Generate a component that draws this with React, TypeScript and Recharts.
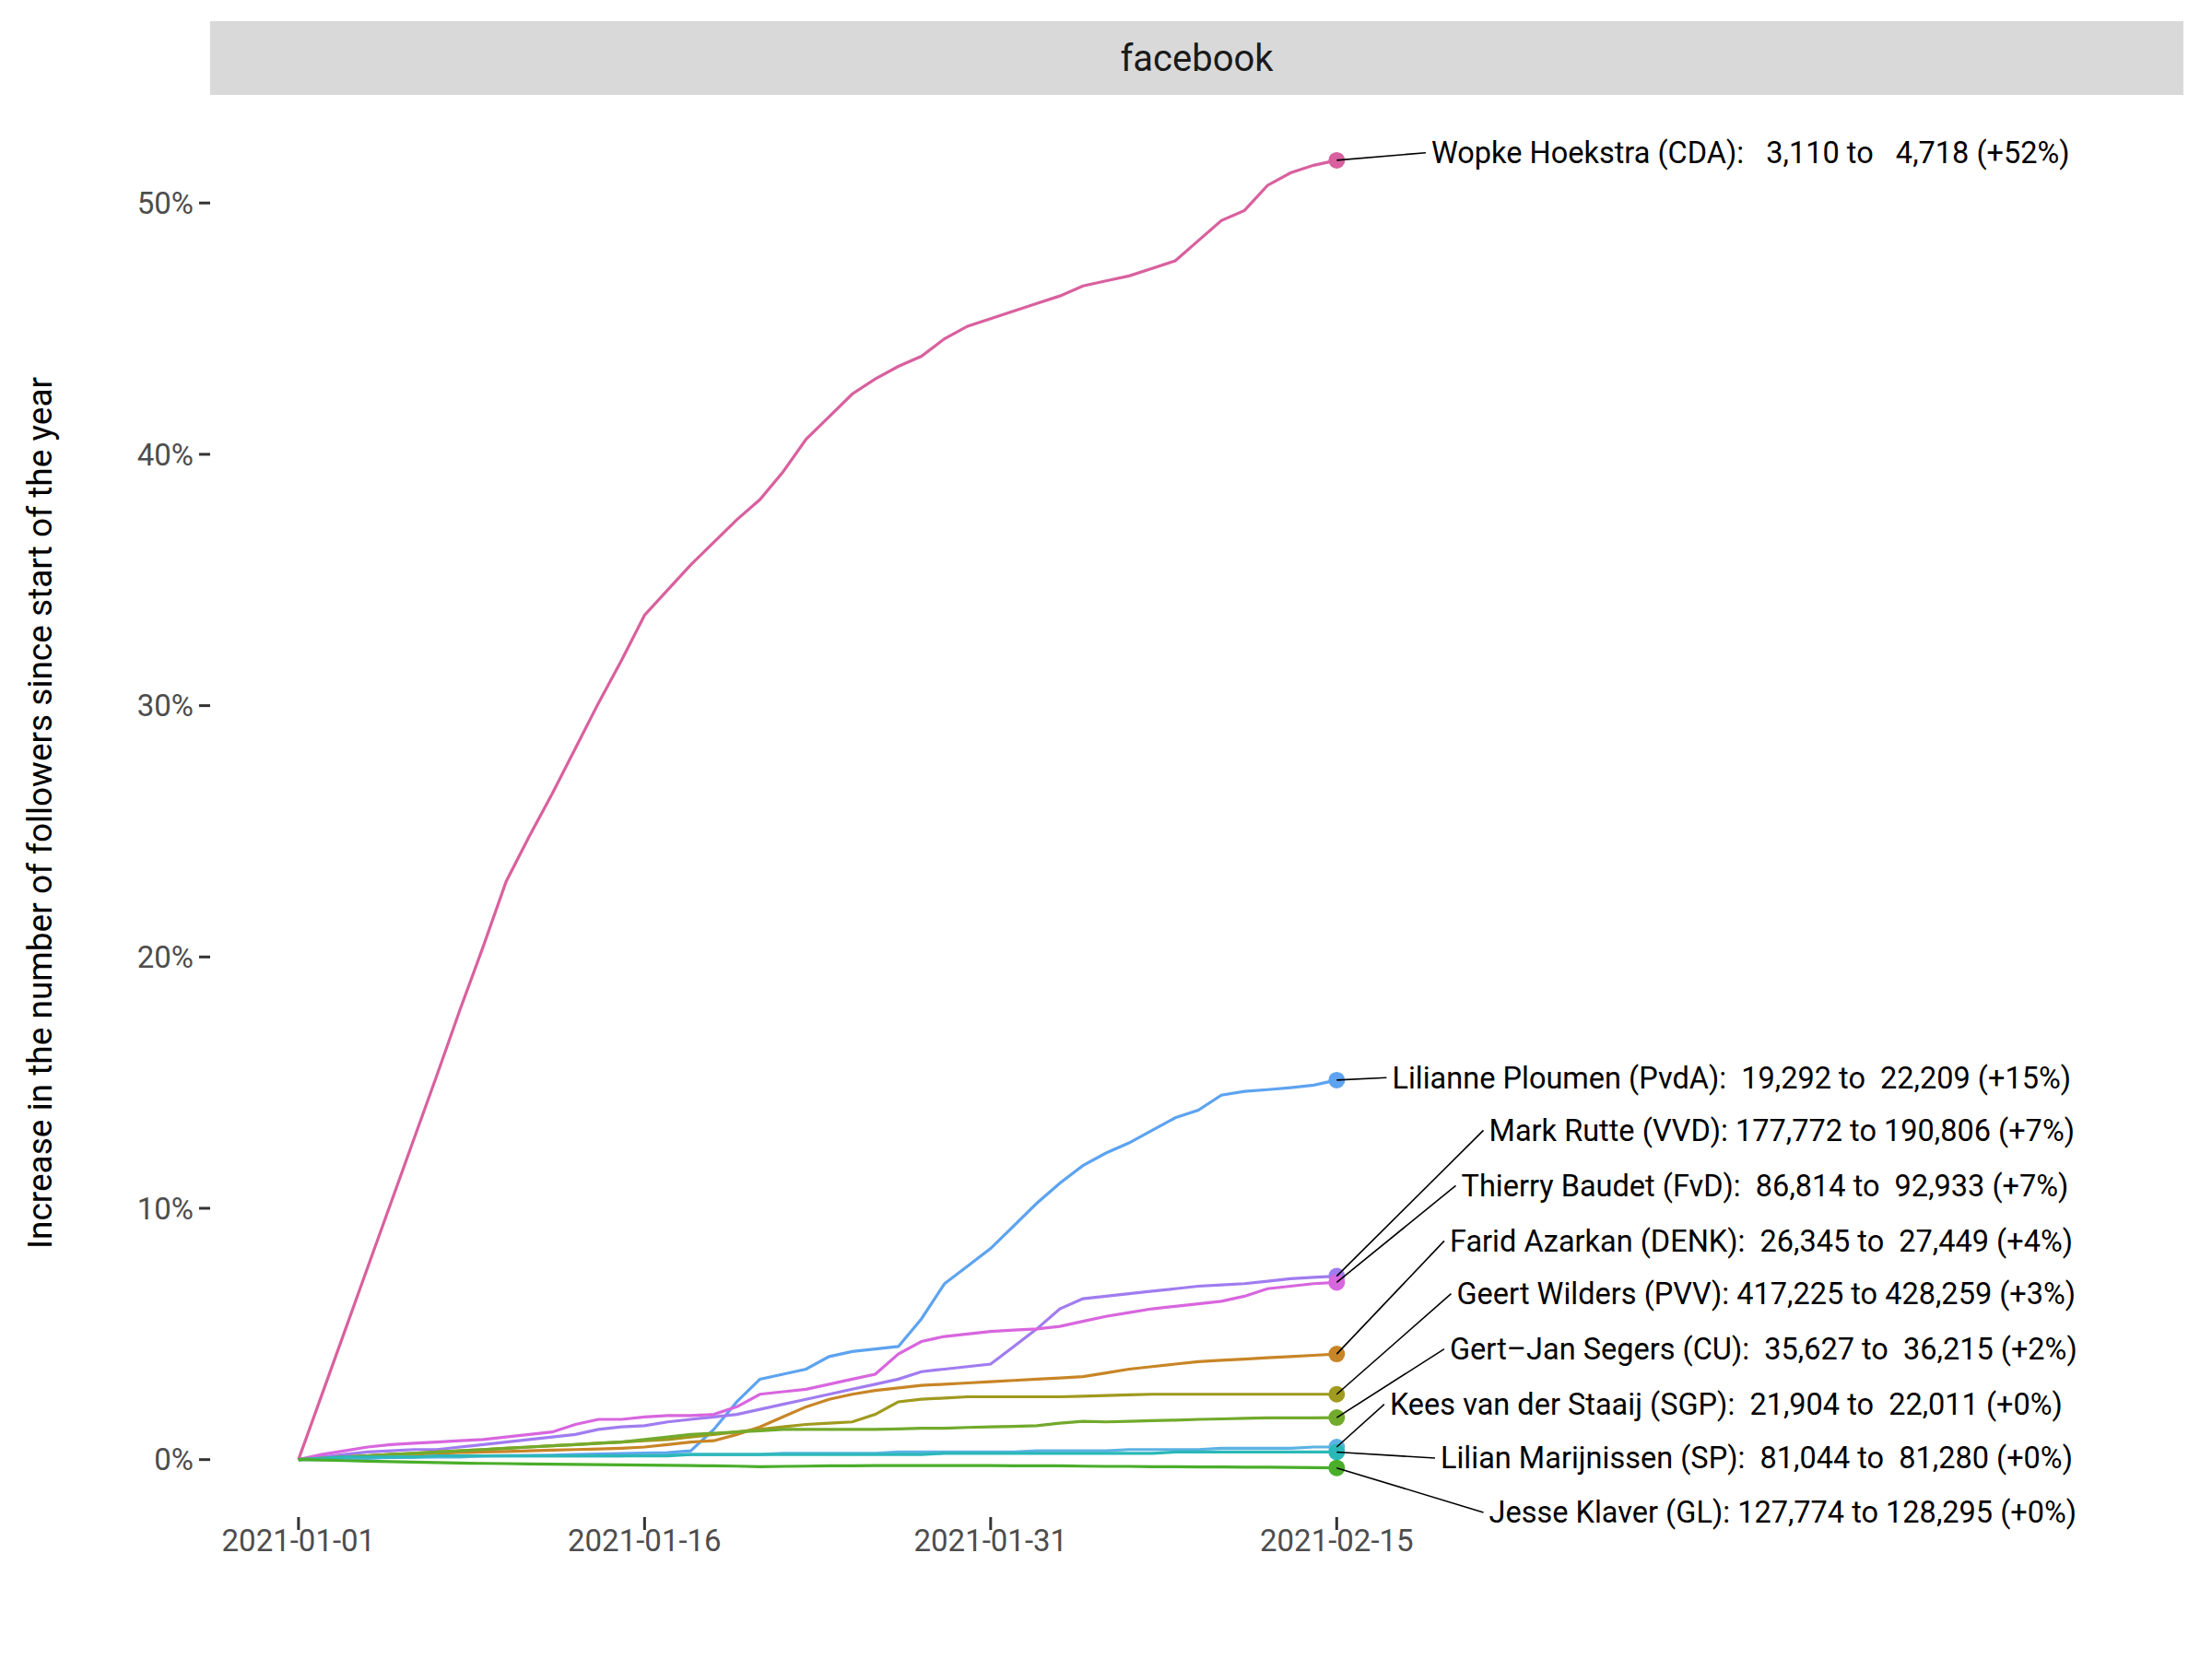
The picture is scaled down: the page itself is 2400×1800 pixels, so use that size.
import React from 'react';
import { LineChart, Line, XAxis, YAxis } from 'recharts';

// day offsets since 2021-01-01
const days = Array.from({ length: 46 }, (_, i) => i);
const tickDays = [0, 15, 30, 45];
const tickLabels = ['2021-01-01', '2021-01-16', '2021-01-31', '2021-02-15'];
const yTicks = [0, 10, 20, 30, 40, 50];

const hoekstra = [0, 2.55, 5.1, 7.65, 10.2, 12.75, 15.3, 17.9, 20.4, 23, 24.8, 26.5, 28.3, 30.1, 31.8, 33.6, 34.6, 35.6, 36.5, 37.4, 38.2, 39.3, 40.6, 41.5, 42.4, 43.0, 43.5, 43.9, 44.6, 45.1, 45.4, 45.7, 46.0, 46.3, 46.7, 46.9, 47.1, 47.4, 47.7, 48.5, 49.3, 49.7, 50.7, 51.2, 51.5, 51.7];
const ploumen = [0, 0.02, 0.04, 0.06, 0.08, 0.1, 0.12, 0.14, 0.15, 0.16, 0.17, 0.18, 0.2, 0.22, 0.24, 0.26, 0.28, 0.35, 1.2, 2.3, 3.2, 3.4, 3.6, 4.1, 4.3, 4.4, 4.5, 5.6, 7.0, 7.7, 8.4, 9.3, 10.2, 11.0, 11.7, 12.2, 12.6, 13.1, 13.6, 13.9, 14.5, 14.65, 14.72, 14.8, 14.9, 15.1];
const rutte = [0, 0.1, 0.2, 0.3, 0.35, 0.4, 0.4, 0.5, 0.6, 0.7, 0.8, 0.9, 1.0, 1.2, 1.3, 1.35, 1.5, 1.6, 1.7, 1.8, 2.0, 2.2, 2.4, 2.6, 2.8, 3.0, 3.2, 3.5, 3.6, 3.7, 3.8, 4.5, 5.2, 6.0, 6.4, 6.5, 6.6, 6.7, 6.8, 6.9, 6.95, 7.0, 7.1, 7.2, 7.25, 7.3];
const baudet = [0, 0.2, 0.35, 0.5, 0.6, 0.65, 0.7, 0.75, 0.8, 0.9, 1.0, 1.1, 1.4, 1.6, 1.6, 1.7, 1.75, 1.75, 1.8, 2.1, 2.6, 2.7, 2.8, 3.0, 3.2, 3.4, 4.2, 4.7, 4.9, 5.0, 5.1, 5.15, 5.2, 5.3, 5.5, 5.7, 5.85, 6.0, 6.1, 6.2, 6.3, 6.5, 6.8, 6.9, 7.0, 7.05];
const azarkan = [0, 0.05, 0.1, 0.15, 0.2, 0.22, 0.25, 0.28, 0.3, 0.32, 0.35, 0.38, 0.4, 0.42, 0.45, 0.5, 0.6, 0.7, 0.75, 1.0, 1.3, 1.7, 2.1, 2.4, 2.6, 2.75, 2.85, 2.95, 3.0, 3.05, 3.1, 3.15, 3.2, 3.25, 3.3, 3.45, 3.6, 3.7, 3.8, 3.9, 3.95, 4.0, 4.05, 4.1, 4.15, 4.2];
const wilders = [0, 0.05, 0.1, 0.15, 0.2, 0.25, 0.3, 0.35, 0.4, 0.45, 0.5, 0.55, 0.6, 0.65, 0.7, 0.75, 0.8, 0.9, 1.0, 1.1, 1.2, 1.3, 1.4, 1.45, 1.5, 1.8, 2.3, 2.4, 2.45, 2.5, 2.5, 2.5, 2.5, 2.5, 2.52, 2.55, 2.58, 2.6, 2.6, 2.6, 2.6, 2.6, 2.6, 2.6, 2.6, 2.6];
const segers = [0, 0.05, 0.1, 0.15, 0.2, 0.25, 0.3, 0.35, 0.4, 0.45, 0.5, 0.55, 0.6, 0.65, 0.7, 0.8, 0.9, 1.0, 1.05, 1.1, 1.15, 1.2, 1.2, 1.2, 1.2, 1.2, 1.22, 1.25, 1.25, 1.28, 1.3, 1.32, 1.35, 1.45, 1.52, 1.5, 1.52, 1.55, 1.57, 1.6, 1.62, 1.64, 1.66, 1.66, 1.66, 1.67];
const staaij = [0, 0, 0.05, 0.05, 0.1, 0.1, 0.1, 0.1, 0.15, 0.15, 0.15, 0.15, 0.15, 0.15, 0.15, 0.2, 0.2, 0.2, 0.2, 0.2, 0.2, 0.25, 0.25, 0.25, 0.25, 0.25, 0.3, 0.3, 0.3, 0.3, 0.3, 0.3, 0.35, 0.35, 0.35, 0.35, 0.4, 0.4, 0.4, 0.4, 0.45, 0.45, 0.45, 0.45, 0.5, 0.5];
const marijnissen = [0, 0.05, 0.1, 0.1, 0.1, 0.1, 0.15, 0.15, 0.15, 0.15, 0.15, 0.15, 0.15, 0.15, 0.15, 0.15, 0.15, 0.2, 0.2, 0.2, 0.2, 0.2, 0.2, 0.2, 0.2, 0.2, 0.2, 0.2, 0.25, 0.25, 0.25, 0.25, 0.25, 0.25, 0.25, 0.25, 0.25, 0.25, 0.3, 0.3, 0.3, 0.3, 0.3, 0.3, 0.3, 0.3];
const klaver = [0, -0.02, -0.04, -0.06, -0.08, -0.1, -0.12, -0.14, -0.15, -0.16, -0.17, -0.18, -0.19, -0.2, -0.21, -0.22, -0.23, -0.24, -0.25, -0.26, -0.28, -0.27, -0.26, -0.25, -0.25, -0.24, -0.24, -0.24, -0.24, -0.24, -0.24, -0.25, -0.25, -0.25, -0.26, -0.27, -0.27, -0.28, -0.28, -0.29, -0.29, -0.3, -0.3, -0.31, -0.32, -0.33];

const seriesKeys = ['hoekstra', 'ploumen', 'rutte', 'baudet', 'azarkan', 'wilders', 'segers', 'staaij', 'marijnissen', 'klaver'];
const seriesValues = [hoekstra, ploumen, rutte, baudet, azarkan, wilders, segers, staaij, marijnissen, klaver];
const seriesColors = ['#D9609E', '#5DA3F0', '#A07CF0', '#D866DE', '#C88526', '#A09A1E', '#72AA2C', '#5CB2E4', '#2BB8B8', '#49AE2A'];
const labelTexts = [
  'Wopke Hoekstra (CDA):   3,110 to   4,718 (+52%)',
  'Lilianne Ploumen (PvdA):  19,292 to  22,209 (+15%)',
  'Mark Rutte (VVD): 177,772 to 190,806 (+7%)',
  'Thierry Baudet (FvD):  86,814 to  92,933 (+7%)',
  'Farid Azarkan (DENK):  26,345 to  27,449 (+4%)',
  'Geert Wilders (PVV): 417,225 to 428,259 (+3%)',
  'Gert\u2013Jan Segers (CU):  35,627 to  36,215 (+2%)',
  'Kees van der Staaij (SGP):  21,904 to  22,011 (+0%)',
  'Lilian Marijnissen (SP):  81,044 to  81,280 (+0%)',
  'Jesse Klaver (GL): 127,774 to 128,295 (+0%)',
];
// label anchor in data units (day, percent)
const labelDays = [49.1, 47.4, 51.6, 50.4, 49.9, 50.2, 49.9, 47.3, 49.5, 51.6];
const labelPcts = [52.0, 15.2, 13.1, 10.9, 8.7, 6.6, 4.4, 2.2, 0.06, -2.1];

const chartData = days.map((d, i) => {
  const row: any = { day: d };
  seriesKeys.forEach((k, s) => (row[k] = seriesValues[s][i]));
  return row;
});

const W = 2400;
const H = 1800;
const PLOT_TOP = 103;
const PLOT_LEFT = 228;
const PLOT_RIGHT = 2369;
const PLOT_BOTTOM = 1660;
const X_DOMAIN = [-3.83, 81.7];
const Y_DOMAIN = [-2.8, 54.3];
const pxPerDay = (PLOT_RIGHT - PLOT_LEFT) / (X_DOMAIN[1] - X_DOMAIN[0]);
const pxPerPct = (PLOT_BOTTOM - PLOT_TOP) / (Y_DOMAIN[1] - Y_DOMAIN[0]);
const LAST = days.length - 1;
const FONT = 'Roboto, "Liberation Sans", sans-serif';

const makeLabel = (s: number) => (props: any) => {
  if (props.index !== LAST) return null;
  const { x, y } = props;
  const lx = x + (labelDays[s] - days[LAST]) * pxPerDay;
  const ly = y - (labelPcts[s] - seriesValues[s][LAST]) * pxPerPct;
  return (
    <g key={`lab-${s}`}>
      <line x1={x} y1={y} x2={lx - 6} y2={ly} stroke="#000" strokeWidth={1.6} />
      <text x={lx} y={ly} dy="0.35em" fontSize={32.5} fill="#000" fontFamily={FONT} style={{ whiteSpace: 'pre' }}>
        {labelTexts[s]}
      </text>
    </g>
  );
};

const makeDot = (s: number) => (props: any) => {
  if (props.index !== LAST) return <g key={`d-${s}-${props.index}`} />;
  return <circle key={`d-${s}`} cx={props.cx} cy={props.cy} r={9} fill={seriesColors[s]} />;
};

export default function App() {
  return (
    <div style={{ position: 'relative', width: W, height: H, background: '#fff', fontFamily: FONT }}>
      <style>{'body{margin:0}'}</style>
      <div
        style={{
          position: 'absolute', left: PLOT_LEFT, top: 23, width: PLOT_RIGHT - PLOT_LEFT, height: PLOT_TOP - 23,
          background: '#D9D9D9', display: 'flex', alignItems: 'center', justifyContent: 'center',
          fontSize: 40, color: '#1A1A1A',
        }}
      >
        facebook
      </div>
      <div
        style={{
          position: 'absolute', left: 43, top: (PLOT_TOP + PLOT_BOTTOM) / 2, transform: 'translate(-50%, -50%) rotate(-90deg)',
          whiteSpace: 'nowrap', fontSize: 37, color: '#000',
        }}
      >
        Increase in the number of followers since start of the year
      </div>
      <LineChart
        width={W}
        height={H}
        data={chartData}
        margin={{ top: PLOT_TOP, right: W - PLOT_RIGHT, bottom: 0, left: 0 }}
        style={{ position: 'absolute', left: 0, top: 0 }}
      >
        <XAxis
          dataKey="day"
          type="number"
          domain={X_DOMAIN}
          ticks={tickDays}
          tickFormatter={(v: number) => tickLabels[tickDays.indexOf(v)]}
          height={H - PLOT_BOTTOM}
          axisLine={false}
          tickLine={{ stroke: '#333', strokeWidth: 3, transform: 'translate(0,-14)' }}
          tickSize={14}
          tick={{ fontSize: 33, fill: '#4D4D4D', fontFamily: FONT, dy: -16 }}
          allowDataOverflow
        />
        <YAxis
          type="number"
          domain={Y_DOMAIN}
          ticks={yTicks}
          tickFormatter={(v: number) => `${v}%`}
          width={PLOT_LEFT}
          axisLine={false}
          tickLine={{ stroke: '#333', strokeWidth: 3 }}
          tickSize={12}
          tickMargin={6}
          tick={{ fontSize: 33, fill: '#4D4D4D', fontFamily: FONT }}
          allowDataOverflow
        />
        {seriesKeys.map((k, s) => (
          <Line
            key={k}
            dataKey={k}
            type="linear"
            stroke={seriesColors[s]}
            strokeWidth={3.2}
            dot={makeDot(s)}
            activeDot={false}
            label={makeLabel(s)}
            isAnimationActive={false}
          />
        ))}
      </LineChart>
    </div>
  );
}
